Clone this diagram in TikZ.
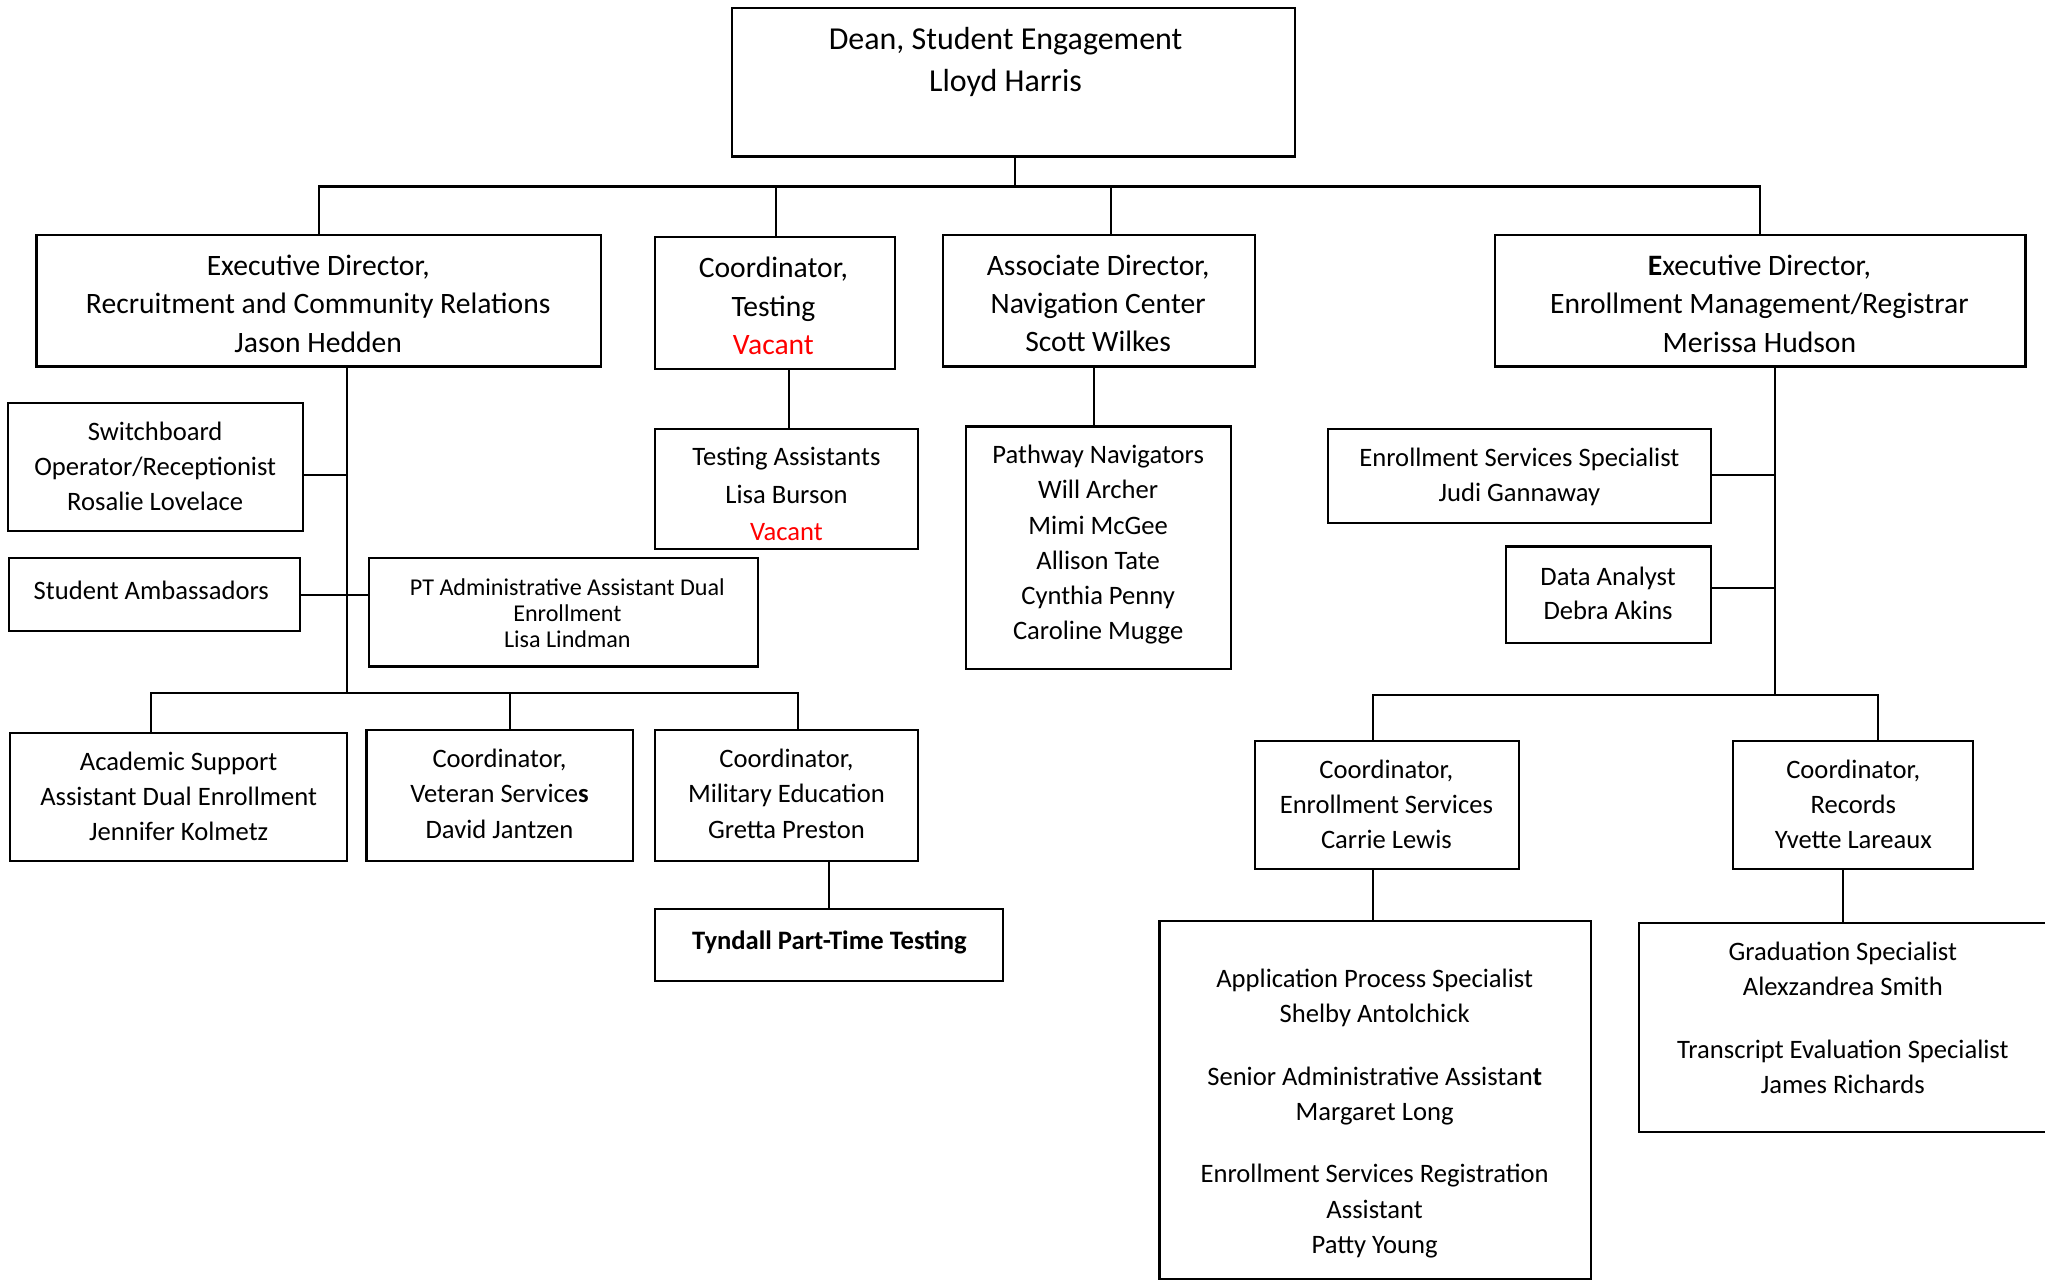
\documentclass[tikz,border=0pt]{standalone}
\usepackage{fontspec}
\setmainfont{Carlito}
\usetikzlibrary{fit,calc}
\definecolor{vac}{RGB}{255,0,0}
\begin{document}
\begin{tikzpicture}[x=1pt,y=-1pt,
  box/.style={draw=black, line width=1.6pt, inner sep=0pt},
  txt/.style={align=center, inner sep=0pt, font=\fontsize{20.4}{27}\selectfont,
    execute at begin node=\strut, execute at end node=\strut},
  ttl/.style={txt, font=\fontsize{22.7}{29.5}\selectfont},
  ln/.style={line width=1.6pt}]
\clip (0,0) rectangle (1568,982);
\fill[white] (0,0) rectangle (1568,982);
% ---------- boxes ----------
\node[box, fit={(561,6) (993,120)}] (dean) {};
\node[box, fit={(28,180) (461,281)}] (execL) {};
\node[box, fit={(502,182) (686,283)}] (testing) {};
\node[box, fit={(723,180) (962,281)}] (assoc) {};
\node[box, fit={(1146,180) (1553,281)}] (execR) {};
\node[box, fit={(6,309) (232,407)}] (switch) {};
\node[box, fit={(7,428) (230,484)}] (amb) {};
\node[box, fit={(283,428) (581,511)}] (pt) {};
\node[box, fit={(8,562) (266,660)}] (acad) {};
\node[box, fit={(281,560) (485,660)}] (veteran) {};
\node[box, fit={(502,560) (704,660)}] (military) {};
\node[box, fit={(502,697) (769,752)}] (tyndall) {};
\node[box, fit={(502,329) (704,421)}] (tassist) {};
\node[box, fit={(741,327) (944,513)}] (pathway) {};
\node[box, fit={(1018,329) (1312,401)}] (ess) {};
\node[box, fit={(1155,419) (1312,493)}] (data) {};
\node[box, fit={(962,568) (1165,666)}] (coordes) {};
\node[box, fit={(1329,568) (1513,666)}] (records) {};
\node[box, fit={(889,706) (1220,981)}] (esteam) {};
\node[box, fit={(1257,708) (1580,868)}] (rteam) {};
% ---------- texts ----------
\node[txt, font=\fontsize{24.5}{32}\selectfont] (deant) at (771,50.5) {Dean, Student Engagement\\Lloyd Harris};
\node[ttl] (execLt) at (244,237) {Executive Director,\\Recruitment and Community Relations\\Jason Hedden};
\node[ttl] (testingt) at (593,239) {Coordinator,\\Testing\\\textcolor{vac}{Vacant}};
\node[ttl] (assoct) at (842,237) {Associate Director,\\Navigation Center\\Scott Wilkes};
\node[ttl] (execRt) at (1349,237) {\textbf{E}xecutive Director,\\Enrollment Management/Registrar\\Merissa Hudson};
\node[txt] (switcht) at (119,361.5) {Switchboard\\Operator/Receptionist\\Rosalie Lovelace};
\node[txt] (ambt) at (116,454.5) {Student Ambassadors};
\node[txt, font=\fontsize{18.5}{20}\selectfont] (ptt) at (435,473) {PT Administrative Assistant Dual\\Enrollment\\Lisa Lindman};
\node[txt] (acadt) at (137,614.5) {Academic Support\\Assistant Dual Enrollment\\Jennifer Kolmetz};
\node[txt] (vetert) at (383,612.5) {Coordinator,\\Veteran Service\textbf{s}\\David Jantzen};
\node[txt] (militaryt) at (603,612.5) {Coordinator,\\Military Education\\Gretta Preston};
\node[txt, font=\bfseries\fontsize{20.4}{27}\selectfont] (tyndallt) at (636,722.5) {Tyndall Part-Time Testing};
\node[txt, font=\fontsize{20.4}{28.5}\selectfont] (tassistt) at (603,383) {Testing Assistants\\Lisa Burson\\\textcolor{vac}{Vacant}};
\node[txt] (pathwayt) at (842,420) {Pathway Navigators\\Will Archer\\Mimi McGee\\Allison Tate\\Cynthia Penny\\Caroline Mugge};
\node[txt] (esst) at (1165,368) {Enrollment Services Specialist\\Judi Gannaway};
\node[txt, font=\fontsize{20.4}{26}\selectfont] (datat) at (1233,458.5) {Data Analyst\\Debra Akins};
\node[txt] (coordest) at (1063,620.5) {Coordinator,\\Enrollment Services\\Carrie Lewis};
\node[txt] (recordst) at (1421,620.5) {Coordinator,\\Records\\Yvette Lareaux};
\node[txt] (esteamt) at (1054,856) {Application Process Specialist\\Shelby Antolchick\\[21pt]Senior Administrative Assistan\textbf{t}\\Margaret Long\\[21pt]Enrollment Services Registration\\Assistant\\Patty Young};
\node[txt] (rteamt) at (1413,784.5) {Graduation Specialist\\Alexzandrea Smith\\[21pt]Transcript Evaluation Specialist\\James Richards};
% ---------- connectors ----------
\coordinate (topbar) at (778,143);
\draw[ln] ($(dean.south)+(1,0)$) -- (topbar);
\draw[ln] (execL.north) -- (execL.north |- topbar) -- (execR.north |- topbar) -- (execR.north);
\draw[ln] ($(testing.north)+(1,0)$) -- ($(testing.north |- topbar)+(1,0)$);
\draw[ln] ($(assoc.north)+(9.5,0)$) -- ($(assoc.north |- topbar)+(9.5,0)$);
% left branch
\coordinate (lbot) at (266,531);
\draw[ln] (execL.south -| lbot) -- (lbot);
\draw[ln] ($(switch.east)+(0,6)$) -- ($(switch.east -| lbot)+(0,6)$);
\draw[ln] (amb.east) -- (amb.east -| pt.west);
\draw[ln] (acad.north -| 116,0) |- (lbot) -| (military.north -| 612,0);
\draw[ln] (veteran.north -| 391,0) -- (lbot -| 391,0);
\draw[ln] (tyndall.north) -- (tyndall.north |- military.south);
% testing & navigation
\draw[ln] ($(tassist.north)+(2,0)$) -- ($(tassist.north |- testing.south)+(2,0)$);
\draw[ln] ($(pathway.north)+(-3.5,0)$) -- ($(pathway.north |- assoc.south)+(-3.5,0)$);
% right branch
\coordinate (rbot) at (1361,533);
\draw[ln] (execR.south -| rbot) -- (rbot);
\draw[ln] ($(ess.east)+(0,-1)$) -- ($(ess.east -| rbot)+(0,-1)$);
\draw[ln] ($(data.east)+(0,-5)$) -- ($(data.east -| rbot)+(0,-5)$);
\draw[ln] (coordes.north -| 1053,0) |- (rbot) -| (records.north -| 1440,0);
\draw[ln] (esteam.north -| 1053,0) -- (coordes.south -| 1053,0);
\draw[ln] (rteam.north -| 1413,0) -- (records.south -| 1413,0);
\end{tikzpicture}
\end{document}
